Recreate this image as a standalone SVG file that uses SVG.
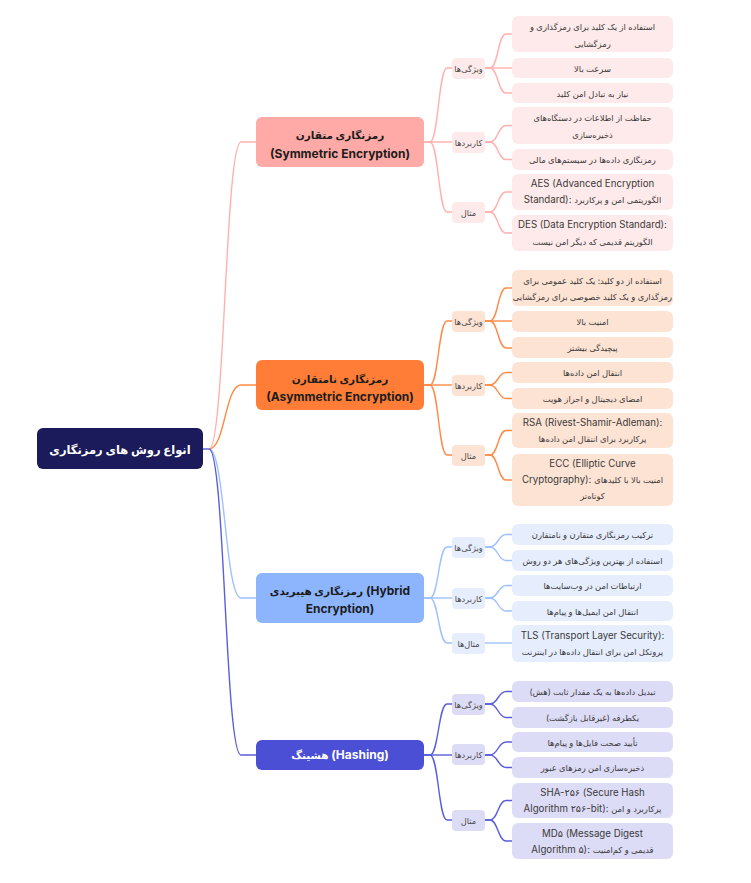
<svg xmlns="http://www.w3.org/2000/svg" width="751" height="883" viewBox="0 0 751 883">
<style>
text{font-family:Inter,"DejaVu Sans",sans-serif;text-anchor:middle}
.fa{font-size:8.4px;fill:#3a3a3a;direction:rtl}
.mx{font-size:9.7px;fill:#3a3a3a}
.mx tspan{font-size:8.4px}
.cat{font-size:8.2px;fill:#4a4a4a;direction:rtl}
.bt{font-size:12px;font-weight:bold;fill:#1c1c1c}
.bt tspan{font-size:10.5px}
.bfa{font-size:10.5px;font-weight:bold;fill:#1c1c1c;direction:rtl}
.conn path{fill:none;stroke-width:1.4}
.cs{stroke:#ffb1ae}.ca{stroke:#ff8a47}.ch{stroke:#9ec0fd}.cx{stroke:#5a5edc}
.ls{fill:#feeaea}.la{fill:#fde3d4}.lh{fill:#e6eefe}.lx{fill:#dddcf7}
</style>
<rect width="751" height="883" fill="#ffffff"/>
<g id="connectors" class="conn">
<path class="cx" d="M203,449 H210"/>
<path class="cs" d="M209,449 C225,449 225,142 241,142 H256"/>
<path class="ca" d="M209,449 C225,449 225,385 241,385 H256"/>
<path class="ch" d="M209,449 C225,449 225,598 241,598 H256"/>
<path class="cx" d="M209,449 C225,449 225,755 241,755 H256"/>
<path class="cs" d="M424,142 H430 C438.5,142 438.5,68 447,68 H452"/>
<path class="cs" d="M424,142 H452"/>
<path class="cs" d="M424,142 H430 C438.5,142 438.5,212 447,212 H452"/>
<path class="ca" d="M424,385 H430 C438.5,385 438.5,321 447,321 H452"/>
<path class="ca" d="M424,385 H452"/>
<path class="ca" d="M424,385 H430 C438.5,385 438.5,455 447,455 H452"/>
<path class="ch" d="M424,598 H430 C438.5,598 438.5,547 447,547 H452"/>
<path class="ch" d="M424,598 H452"/>
<path class="ch" d="M424,598 H430 C438.5,598 438.5,643 447,643 H452"/>
<path class="cx" d="M424,755 H430 C438.5,755 438.5,704 447,704 H452"/>
<path class="cx" d="M424,755 H452"/>
<path class="cx" d="M424,755 H430 C438.5,755 438.5,820 447,820 H452"/>
<path class="cs" d="M485,68 H490 C498,68 498,34 506,34 H512"/>
<path class="cs" d="M485,68 H512"/>
<path class="cs" d="M485,68 H490 C498,68 498,93 506,93 H512"/>
<path class="cs" d="M485,142 H490 C498,142 498,125.5 506,125.5 H512"/>
<path class="cs" d="M485,142 H490 C498,142 498,159.5 506,159.5 H512"/>
<path class="cs" d="M485,212 H490 C498,212 498,192 506,192 H512"/>
<path class="cs" d="M485,212 H490 C498,212 498,233 506,233 H512"/>
<path class="ca" d="M485,321 H490 C498,321 498,288 506,288 H512"/>
<path class="ca" d="M485,321 H512"/>
<path class="ca" d="M485,321 H490 C498,321 498,348 506,348 H512"/>
<path class="ca" d="M485,385 H490 C498,385 498,372.5 506,372.5 H512"/>
<path class="ca" d="M485,385 H490 C498,385 498,398.5 506,398.5 H512"/>
<path class="ca" d="M485,455 H490 C498,455 498,430.5 506,430.5 H512"/>
<path class="ca" d="M485,455 H490 C498,455 498,480 506,480 H512"/>
<path class="ch" d="M485,547 H490 C498,547 498,534.5 506,534.5 H512"/>
<path class="ch" d="M485,547 H490 C498,547 498,560.5 506,560.5 H512"/>
<path class="ch" d="M485,598 H490 C498,598 498,585.5 506,585.5 H512"/>
<path class="ch" d="M485,598 H490 C498,598 498,611 506,611 H512"/>
<path class="ch" d="M485,643 H512"/>
<path class="cx" d="M485,704 H490 C498,704 498,691.5 506,691.5 H512"/>
<path class="cx" d="M485,704 H490 C498,704 498,717.5 506,717.5 H512"/>
<path class="cx" d="M485,755 H490 C498,755 498,742 506,742 H512"/>
<path class="cx" d="M485,755 H490 C498,755 498,767.5 506,767.5 H512"/>
<path class="cx" d="M485,820 H490 C498,820 498,800.5 506,800.5 H512"/>
<path class="cx" d="M485,820 H490 C498,820 498,841 506,841 H512"/>
</g>

<g id="root">
<rect x="37" y="428" width="166" height="41" rx="6" fill="#1b1a5a"/>
<text x="120" y="453.5" style="font-size:11.5px;font-weight:bold;fill:#ffffff;direction:rtl">انواع روش های رمزنگاری</text>
</g>

<g id="b-sym">
<rect x="256" y="117" width="168" height="50" rx="6" fill="#ffaaa7"/>
<text class="bfa" x="340" y="139">رمزنگاری متقارن</text>
<text class="bt" x="340" y="157.5">(Symmetric Encryption)</text>
</g>
<g id="b-asym">
<rect x="256" y="360" width="168" height="50" rx="6" fill="#ff7d36"/>
<text class="bfa" x="340" y="382.5">رمزنگاری نامتقارن</text>
<text class="bt" x="340" y="400.5">(Asymmetric Encryption)</text>
</g>
<g id="b-hyb">
<rect x="256" y="573" width="168" height="50" rx="6" fill="#8db5fe"/>
<text class="bt" x="340" y="595"><tspan>رمزنگاری هیبریدی</tspan> (Hybrid</text>
<text class="bt" x="340" y="613">Encryption)</text>
</g>
<g id="b-hash">
<rect x="256" y="740" width="168" height="30" rx="6" fill="#4a4fd6"/>
<text class="bt" x="340" y="759" style="fill:#ffffff"><tspan>هشینگ</tspan> (Hashing)</text>
</g>

<g id="c-sym-feat"><rect class="ls" x="452" y="58" width="33" height="21" rx="4"/><text class="cat" x="468.5" y="71.5">ویژگی‌ها</text></g>
<g id="c-sym-app"><rect class="ls" x="452" y="132" width="33" height="21" rx="4"/><text class="cat" x="468.5" y="145.5">کاربردها</text></g>
<g id="c-sym-ex"><rect class="ls" x="452" y="202" width="33" height="21" rx="4"/><text class="cat" x="468.5" y="215.5">مثال</text></g>
<g id="c-asym-feat"><rect class="la" x="452" y="311" width="33" height="21" rx="4"/><text class="cat" x="468.5" y="324.5">ویژگی‌ها</text></g>
<g id="c-asym-app"><rect class="la" x="452" y="375" width="33" height="21" rx="4"/><text class="cat" x="468.5" y="388.5">کاربردها</text></g>
<g id="c-asym-ex"><rect class="la" x="452" y="445" width="33" height="21" rx="4"/><text class="cat" x="468.5" y="458.5">مثال</text></g>
<g id="c-hyb-feat"><rect class="lh" x="452" y="537" width="33" height="21" rx="4"/><text class="cat" x="468.5" y="550.5">ویژگی‌ها</text></g>
<g id="c-hyb-app"><rect class="lh" x="452" y="588" width="33" height="21" rx="4"/><text class="cat" x="468.5" y="601.5">کاربردها</text></g>
<g id="c-hyb-ex"><rect class="lh" x="452" y="633" width="33" height="21" rx="4"/><text class="cat" x="468.5" y="646.5">مثال‌ها</text></g>
<g id="c-hash-feat"><rect class="lx" x="452" y="694" width="33" height="21" rx="4"/><text class="cat" x="468.5" y="707.5">ویژگی‌ها</text></g>
<g id="c-hash-app"><rect class="lx" x="452" y="744" width="33" height="21" rx="4"/><text class="cat" x="468.5" y="757.5">کاربردها</text></g>
<g id="c-hash-ex"><rect class="lx" x="452" y="810" width="33" height="21" rx="4"/><text class="cat" x="468.5" y="823.5">مثال</text></g>

<g id="l-s1"><rect class="ls" x="512" y="16" width="161" height="36" rx="6"/><text class="fa" x="592.5" y="29.5">استفاده از یک کلید برای رمزگذاری و</text><text class="fa" x="592.5" y="46.5">رمزگشایی</text></g>
<g id="l-s2"><rect class="ls" x="512" y="58" width="161" height="20" rx="6"/><text class="fa" x="592.5" y="71.5">سرعت بالا</text></g>
<g id="l-s3"><rect class="ls" x="512" y="83" width="161" height="20" rx="6"/><text class="fa" x="592.5" y="96.5">نیاز به تبادل امن کلید</text></g>
<g id="l-s4"><rect class="ls" x="512" y="107" width="161" height="37" rx="6"/><text class="fa" x="592.5" y="120.5">حفاظت از اطلاعات در دستگاه‌های</text><text class="fa" x="592.5" y="137.5">ذخیره‌سازی</text></g>
<g id="l-s5"><rect class="ls" x="512" y="149" width="161" height="21" rx="6"/><text class="fa" x="592.5" y="163">رمزنگاری داده‌ها در سیستم‌های مالی</text></g>
<g id="l-s6"><rect class="ls" x="512" y="174" width="161" height="36" rx="6"/><text class="mx" x="592.5" y="187">AES (Advanced Encryption</text><text class="mx" x="592.5" y="203">Standard): <tspan>الگوریتمی امن و پرکاربرد</tspan></text></g>
<g id="l-s7"><rect class="ls" x="512" y="215" width="161" height="36" rx="6"/><text class="mx" x="592.5" y="228">DES (Data Encryption Standard):</text><text class="fa" x="592.5" y="244.5">الگوریتم قدیمی که دیگر امن نیست</text></g>

<g id="l-a1"><rect class="la" x="512" y="270" width="161" height="36" rx="6"/><text class="fa" x="592.5" y="283.5">استفاده از دو کلید: یک کلید عمومی برای</text><text class="fa" x="592.5" y="300">رمزگذاری و یک کلید خصوصی برای رمزگشایی</text></g>
<g id="l-a2"><rect class="la" x="512" y="311" width="161" height="21" rx="6"/><text class="fa" x="592.5" y="325">امنیت بالا</text></g>
<g id="l-a3"><rect class="la" x="512" y="337" width="161" height="21" rx="6"/><text class="fa" x="592.5" y="351">پیچیدگی بیشتر</text></g>
<g id="l-a4"><rect class="la" x="512" y="362" width="161" height="21" rx="6"/><text class="fa" x="592.5" y="376">انتقال امن داده‌ها</text></g>
<g id="l-a5"><rect class="la" x="512" y="388" width="161" height="21" rx="6"/><text class="fa" x="592.5" y="402">امضای دیجیتال و احراز هویت</text></g>
<g id="l-a6"><rect class="la" x="512" y="413" width="161" height="35" rx="6"/><text class="mx" x="592.5" y="426">RSA (Rivest-Shamir-Adleman):</text><text class="fa" x="592.5" y="442">پرکاربرد برای انتقال امن داده‌ها</text></g>
<g id="l-a7"><rect class="la" x="512" y="454" width="161" height="52" rx="6"/><text class="mx" x="592.5" y="467">ECC (Elliptic Curve</text><text class="mx" x="592.5" y="483">Cryptography): <tspan>امنیت بالا با کلیدهای</tspan></text><text class="fa" x="592.5" y="498.5">کوتاه‌تر</text></g>

<g id="l-h1"><rect class="lh" x="512" y="524" width="161" height="21" rx="6"/><text class="fa" x="592.5" y="538">ترکیب رمزنگاری متقارن و نامتقارن</text></g>
<g id="l-h2"><rect class="lh" x="512" y="550" width="161" height="21" rx="6"/><text class="fa" x="592.5" y="564">استفاده از بهترین ویژگی‌های هر دو روش</text></g>
<g id="l-h3"><rect class="lh" x="512" y="575" width="161" height="21" rx="6"/><text class="fa" x="592.5" y="589">ارتباطات امن در وب‌سایت‌ها</text></g>
<g id="l-h4"><rect class="lh" x="512" y="601" width="161" height="20" rx="6"/><text class="fa" x="592.5" y="614.5">انتقال امن ایمیل‌ها و پیام‌ها</text></g>
<g id="l-h5"><rect class="lh" x="512" y="625" width="161" height="37" rx="6"/><text class="mx" x="592.5" y="638.5">TLS (Transport Layer Security):</text><text class="fa" x="592.5" y="655">پروتکل امن برای انتقال داده‌ها در اینترنت</text></g>

<g id="l-x1"><rect class="lx" x="512" y="681" width="161" height="21" rx="6"/><text class="fa" x="592.5" y="695">تبدیل داده‌ها به یک مقدار ثابت (هش)</text></g>
<g id="l-x2"><rect class="lx" x="512" y="707" width="161" height="21" rx="6"/><text class="fa" x="592.5" y="721">یکطرفه (غیرقابل بازگشت)</text></g>
<g id="l-x3"><rect class="lx" x="512" y="732" width="161" height="20" rx="6"/><text class="fa" x="592.5" y="745.5">تأیید صحت فایل‌ها و پیام‌ها</text></g>
<g id="l-x4"><rect class="lx" x="512" y="757" width="161" height="21" rx="6"/><text class="fa" x="592.5" y="771">ذخیره‌سازی امن رمزهای عبور</text></g>
<g id="l-x5"><rect class="lx" x="512" y="783" width="161" height="35" rx="6"/><text class="mx" x="592.5" y="796">SHA-۲۵۶ (Secure Hash</text><text class="mx" x="592.5" y="812">Algorithm ۲۵۶-bit): <tspan>پرکاربرد و امن</tspan></text></g>
<g id="l-x6"><rect class="lx" x="512" y="823" width="161" height="36" rx="6"/><text class="mx" x="592.5" y="836.5">MD۵ (Message Digest</text><text class="mx" x="592.5" y="852.5">Algorithm ۵): <tspan>قدیمی و کم‌امنیت</tspan></text></g>
</svg>
